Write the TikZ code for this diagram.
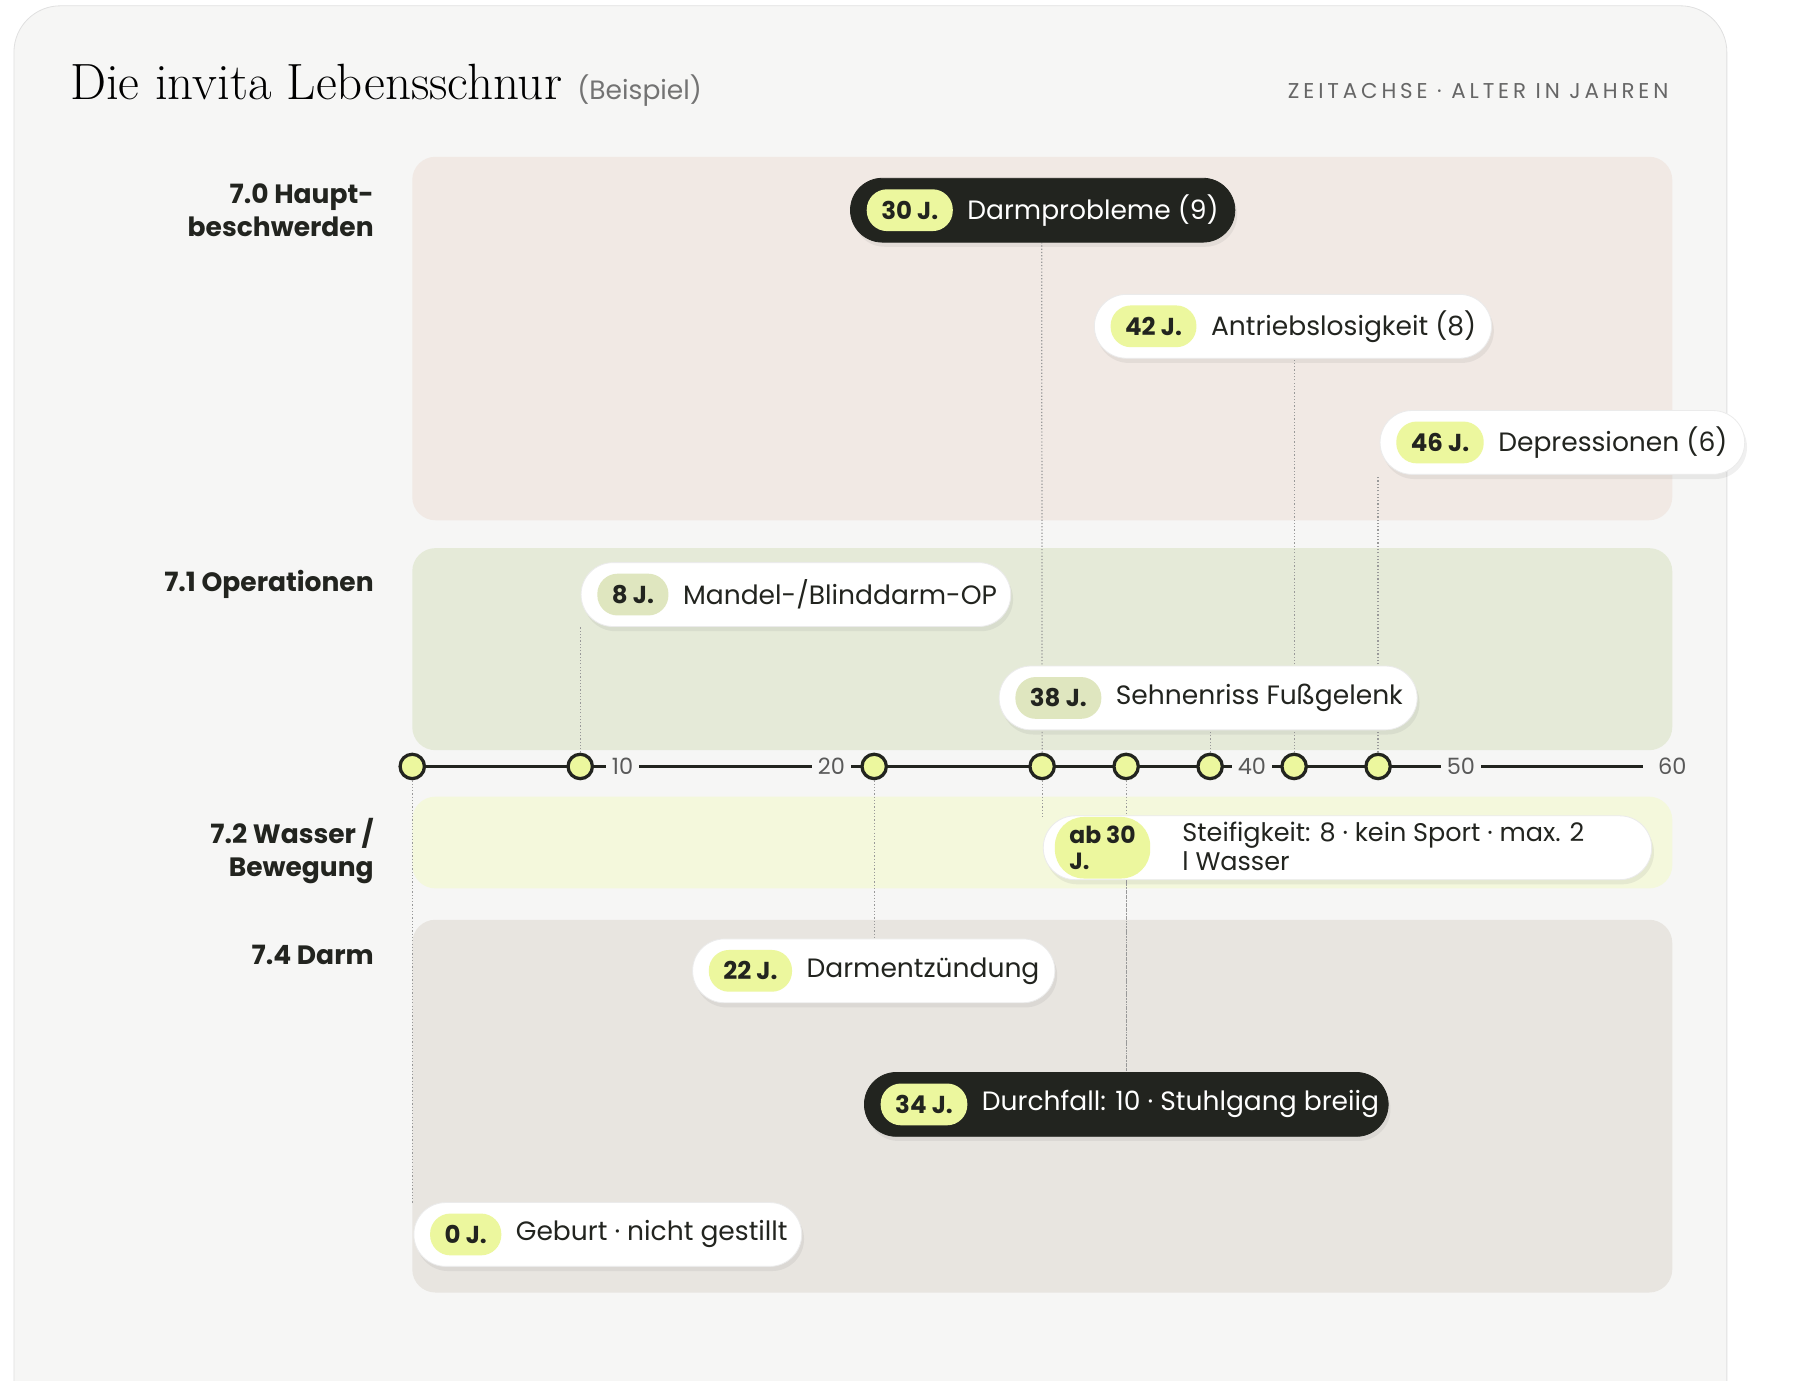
\documentclass[tikz,border=0pt]{standalone}
\usepackage{fontspec}
\setmainfont{Poppins}
\newfontfamily\titlefont{Latin Modern Roman}
\newfontfamily\spacedfont[LetterSpace=18]{Poppins}
\usetikzlibrary{positioning,shadows}
\definecolor{card}{HTML}{F6F6F5}
\definecolor{ink}{HTML}{22241F}
\definecolor{lime}{HTML}{ECF79E}
\definecolor{sage}{HTML}{DFE6BF}
\definecolor{bandA}{HTML}{F1E9E4}
\definecolor{bandB}{HTML}{E5EAD8}
\definecolor{bandC}{HTML}{F4F8DC}
\definecolor{bandD}{HTML}{E8E5E0}
\tikzset{
  band/.style={fill=#1, draw=none, rounded corners=0.4cm},
  rowlabel/.style={anchor=east, align=right, font=\fontsize{13}{16}\selectfont\bfseries, text=ink},
  pill/.style={draw=black!8, fill=white, rounded corners=0.55cm, minimum height=1.1cm, anchor=west,
    drop shadow={opacity=0.12, shadow xshift=0.04cm, shadow yshift=-0.08cm}},
  darkpill/.style={pill, fill=ink, draw=ink},
  tag/.style={fill=#1, rounded corners=0.35cm, minimum height=0.72cm, inner xsep=0.25cm, anchor=west,
    font=\fontsize{12}{14}\selectfont\bfseries, text=ink},
  evtext/.style={anchor=west, font=\fontsize{13}{16}\selectfont, text=#1},
  dot/.style={circle, draw=ink, line width=1.6pt, fill=lime, minimum size=0.42cm, inner sep=0pt},
  tick/.style={fill=card, inner xsep=3pt, font=\fontsize{11}{13}\selectfont, text=black!65},
  conn/.style={draw=black!40, densely dotted, line width=0.6pt},
}
% name, x1, x2, y (layout pixels), tag, text, pill style, tag colour, text colour
\newcommand{\eventpill}[9]{%
  \node[#7, minimum width={(#3-#2)*0.02cm}] (#1) at (#2,#4) {};
  \node[tag=#8] (#1t) at ([xshift=0.28cm]#1.west) {#5};
  \node[evtext=#9, right=0.12cm of #1t] {#6};
}
\begin{document}
\begin{tikzpicture}[x=0.02cm, y=-0.02cm]
  \useasboundingbox (0,0) rectangle (1550,1189);
  \fill[card, draw=black!12, rounded corners=0.8cm] (12,5) rectangle (1487,1240);

  % title
  \node[anchor=base west, inner sep=0pt] (title) at (60,86)
    {\titlefont\fontsize{25}{28}\selectfont Die invita Lebensschnur};
  \node[anchor=base west, inner sep=0pt, text=black!55, font=\fontsize{13}{15}\selectfont] at ([xshift=0.25cm]title.base east) {(Beispiel)};
  \node[anchor=base east, inner sep=0pt, text=black!60] (axtitle) at (1437,85)
    {\spacedfont\fontsize{10.5}{12}\selectfont ZEITACHSE · ALTER IN JAHREN};

  % bands
  \fill[band=bandA] (355,135) rectangle (1440,448);
  \fill[band=bandB] (355,472) rectangle (1440,646);
  \fill[band=bandC] (355,686) rectangle (1440,765);
  \fill[band=bandD] (355,792) rectangle (1440,1113);

  \node[rowlabel] at (328,181) {7.0 Haupt-\\beschwerden};
  \node[rowlabel] at (328,503) {7.1 Operationen};
  \node[rowlabel] at (328,733) {7.2 Wasser /\\Bewegung};
  \node[rowlabel] at (328,822) {7.4 Darm};

  % axis
  \draw[ink, line width=1.6pt] (355,660) -- (1415,660);
  \foreach \v/\px in {10/536, 20/716, 40/1078, 50/1258}
    \node[tick] at (\px,660) {\v};
  \node[tick, fill=none] at (1440,660) {60};
  \foreach \a in {0,8,22,30,34,38,42,46}
    \node[dot] (a\a) at ({355+\a*18.08},660) {};

  % connectors (behind the pills)
  \coordinate (c30) at (897,209);
  \draw[conn] (a30) -- (c30);
  \draw[conn] (a42) -- (a42 |- 0,309);
  \draw[conn] (a46) -- (a46 |- 0,410);
  \draw[conn] (a8) -- (a8 |- 0,540);
  \draw[conn] (a38) -- (a38 |- 0,629);
  \draw[conn] (a30) -- (a30 |- 0,704);
  \draw[conn] (a22) -- (a22 |- 0,809);
  \draw[conn] (a34) -- (a34 |- 0,922);
  \draw[conn] (a0) -- (a0 |- 0,1036);

  % events
  \eventpill{e30}{732}{1063}{181}{30 J.}{Darmprobleme (9)}{darkpill}{lime}{white}
  \eventpill{e42}{942}{1284}{281}{42 J.}{Antriebslosigkeit (8)}{pill}{lime}{ink}
  \eventpill{e46}{1188}{1502}{381}{46 J.}{Depressionen (6)}{pill}{lime}{ink}
  \eventpill{e8}{500}{870}{512}{8 J.}{Mandel-/Blinddarm-OP}{pill}{sage}{ink}
  \eventpill{e38}{860}{1220}{601}{38 J.}{Sehnenriss Fußgelenk}{pill}{sage}{ink}
  \eventpill{e22}{596}{908}{836}{22 J.}{Darmentzündung}{pill}{lime}{ink}
  \eventpill{e34}{744}{1195}{951}{34 J.}{Durchfall: 10 · Stuhlgang breiig}{darkpill}{lime}{white}
  \eventpill{e0}{356}{690}{1063}{0 J.}{Geburt · nicht gestillt}{pill}{lime}{ink}

  \node[pill, minimum width=10.48cm] (ew) at (898,730) {};
  \node[tag=lime, align=left, minimum height=1.06cm, rounded corners=0.5cm, font=\fontsize{11.5}{13}\selectfont\bfseries]
    (ewt) at ([xshift=0.2cm]ew.west) {ab 30\\J.};
  \node[evtext=ink, align=left, font=\fontsize{12.5}{14}\selectfont] at (1012,729)
    {Steifigkeit: 8 · kein Sport · max. 2\\l Wasser};
  \draw[conn] (ew.south -| a34) -- (a34 |- 0,922);
\end{tikzpicture}
\end{document}
